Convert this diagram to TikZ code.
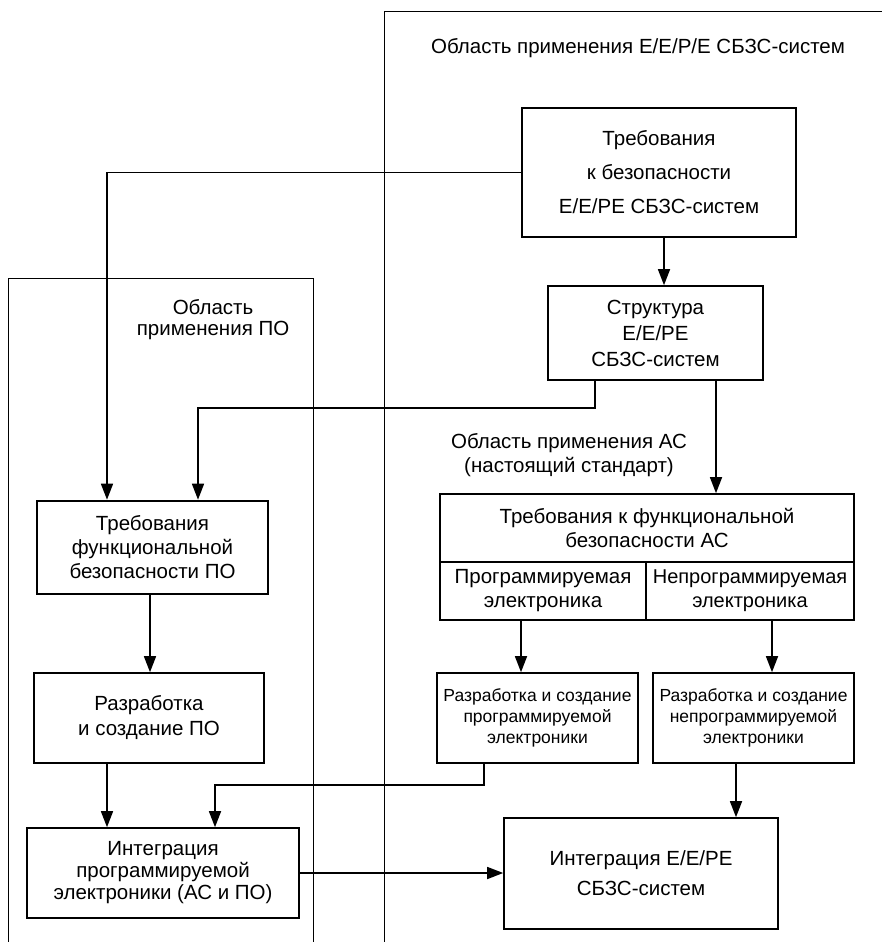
\documentclass[tikz,border=0pt]{standalone}
\usepackage{fontspec}
\setmainfont{Liberation Sans}
\usepackage{tikz}
\usetikzlibrary{arrows.meta}
\tikzset{blk/.style={draw=black, line width=1.6pt, rectangle, align=center, inner sep=0pt, font=\fontsize{20.5}{24}\selectfont}}
\tikzset{thk/.style={blk, line width=2.6pt}}
\tikzset{sml/.style={font=\fontsize{17.5}{21}\selectfont}}
\tikzset{lbl/.style={align=center, inner sep=0pt, font=\fontsize{20.5}{24}\selectfont}}
\tikzset{frm/.style={line width=1pt}}

\begin{document}
\begin{tikzpicture}[x=1pt, y=-1pt, line width=1.5pt, >={Triangle[length=16pt,width=12pt]}]
    \useasboundingbox (0,0) rectangle (882,942);
    \draw[frm] (384,942) -- (384,12) -- (882,12);
    \draw[frm] (8,942) -- (8,278) -- (313,278) -- (313,942);

    \node[lbl] (obl1) at (638,48) {Область применения E/E/P/E СБЗС-систем};
    \node[lbl, font=\fontsize{20.5}{21}\selectfont] (obl2) at (213,320) {Область\\применения ПО};
    \node[lbl] (obl3) at (569,455) {Область применения АС\\(настоящий стандарт)};

    \node[blk, minimum width=274pt, minimum height=129pt, font=\fontsize{20.5}{34}\selectfont] (treb) at (659,172.5) {Требования\\к безопасности\\E/E/PE СБЗС-систем};
    \node[blk, minimum width=215pt, minimum height=94pt, font=\fontsize{20.5}{26}\selectfont] (struct) at (655.5,333) {Структура\\E/E/PE\\СБЗС-систем};
    \node[thk, minimum width=231pt, minimum height=93pt] (fbpo) at (152.5,547.5) {Требования\\функциональной\\безопасности ПО};
    \node[blk, minimum width=414pt, minimum height=68pt] (acreq) at (647,528) {Требования к функциональной\\безопасности АС};
    \node[blk, minimum width=206pt, minimum height=58pt] (prog) at (543,591) {Программируемая\\электроника};
    \node[blk, minimum width=208pt, minimum height=58pt, font=\fontsize{20}{24}\selectfont] (nonprog) at (750,591) {Непрограммируемая\\электроника};
    \node[blk, minimum width=230pt, minimum height=90pt, font=\fontsize{20.5}{25}\selectfont] (devpo) at (149,718) {Разработка\\и создание ПО};
    \node[blk, sml, minimum width=201pt, minimum height=90pt] (devprog) at (537.5,718) {Разработка и создание\\программируемой\\электроники};
    \node[blk, sml, minimum width=201pt, minimum height=90pt] (devnon) at (753.5,718) {Разработка и создание\\непрограммируемой\\электроники};
    \node[blk, minimum width=272pt, minimum height=90pt, font=\fontsize{20.5}{22}\selectfont] (intpo) at (163,873) {Интеграция\\программируемой\\электроники (АС и ПО)};
    \node[blk, minimum width=274pt, minimum height=111pt, font=\fontsize{20.5}{30}\selectfont] (inte) at (641,873.5) {Интеграция E/E/PE\\СБЗС-систем};

    \coordinate (k1) at (198,408);
    \coordinate (k2) at (215,785);

    \draw[->] ([xshift=5pt]treb.south) -- ([xshift=5pt]treb.south |- struct.north);
    \draw[->] (treb.west) -| ([xshift=-45.5pt]fbpo.north);
    \draw[->] ([xshift=-60.5pt]struct.south) |- (k1) -- (k1 |- fbpo.north);
    \draw[->] ([xshift=60.5pt]struct.south) -- ([xshift=60.5pt]struct.south |- acreq.north);
    \draw[->] ([xshift=-2.5pt]fbpo.south) -- ([xshift=-2.5pt]fbpo.south |- devpo.north);
    \draw[->] ([xshift=-22pt]prog.south) -- ([xshift=-22pt]prog.south |- devprog.north);
    \draw[->] ([xshift=22pt]nonprog.south) -- ([xshift=22pt]nonprog.south |- devnon.north);
    \draw[->] ([xshift=-42pt]devpo.south) -- ([xshift=-42pt]devpo.south |- intpo.north);
    \draw[->] ([xshift=-53.5pt]devprog.south) |- (k2) -- (k2 |- intpo.north);
    \draw[->] (intpo.east) -- (intpo.east -| inte.west);
    \draw[->] ([xshift=-17.5pt]devnon.south) -- ([xshift=-17.5pt]devnon.south |- inte.north);
\end{tikzpicture}
\end{document}
